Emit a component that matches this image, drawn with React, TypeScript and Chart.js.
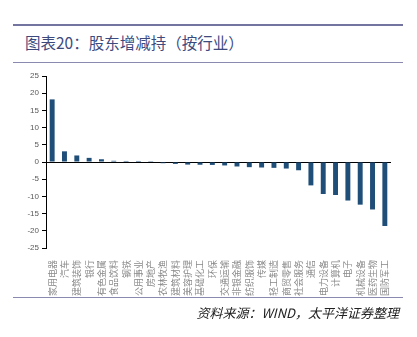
import React, { useEffect, useRef } from "react";
import { Chart, registerables } from "chart.js";
Chart.register(...registerables);

const titleText = "图表20：股东增减持（按行业）";
const sourceText = "资料来源：WIND，太平洋证券整理";

const categories = [
  "家用电器", "汽车", "建筑装饰", "银行", "有色金属", "食品饮料", "钢铁",
  "公用事业", "房地产", "农林牧渔", "建筑材料", "美容护理", "基础化工", "环保",
  "交通运输", "非银金融", "纺织服饰", "传媒", "轻工制造", "商贸零售", "社会服务",
  "通信", "电力设备", "计算机", "电子", "机械设备", "医药生物", "国防军工",
];

const values = [
  18.2, 3.1, 1.9, 1.2, 0.8, 0.35, 0.3,
  0.3, 0.25, -0.35, -0.55, -0.75, -0.8, -0.85,
  -1.0, -1.3, -1.5, -1.6, -1.7, -1.9, -2.4,
  -6.8, -9.3, -9.6, -11.2, -12.4, -13.8, -18.6,
];

const yMin = -25;
const yMax = 25;
const yStep = 5;

export default function App() {
  const ref = useRef<HTMLCanvasElement>(null);

  useEffect(() => {
    const chart = new Chart(ref.current!, {
      type: "bar",
      data: {
        labels: categories,
        datasets: [
          {
            data: values,
            backgroundColor: "#1F4E79",
            barPercentage: 0.4,
            categoryPercentage: 1,
          },
        ],
      },
      options: {
        responsive: false,
        animation: false,
        layout: { padding: { top: 76, bottom: 40, left: 0, right: 26 } },
        plugins: { legend: { display: false }, tooltip: { enabled: false } },
        scales: {
          x: {
            grid: { display: false },
            border: { display: false },
            ticks: {
              autoSkip: false,
              minRotation: 90,
              maxRotation: 90,
              padding: 4,
              color: "#8a8a8a",
              font: { size: 9, family: "Noto Sans CJK SC" },
            },
            afterFit: (s: any) => {
              s.height = 49;
            },
          },
          y: {
            min: yMin,
            max: yMax,
            ticks: {
              stepSize: yStep,
              color: "#595959",
              padding: 3,
              font: { size: 8, family: "Liberation Sans" },
            },
            grid: {
              color: (c: any) =>
                c.tick && c.tick.value === 0 ? "#000" : "rgba(0,0,0,0)",
              tickColor: "#000",
              tickLength: 4,
              lineWidth: 1,
            },
            border: { display: true, color: "#000" },
            afterFit: (s: any) => {
              s.width = 46;
            },
          },
        },
      },
    });
    return () => chart.destroy();
  }, []);

  return (
    <div
      style={{
        position: "fixed",
        left: 0,
        top: 0,
        width: 417,
        height: 337,
        background: "#fff",
        overflow: "hidden",
      }}
    >
      <div style={{ position: "absolute", left: 13, top: 24, width: 390, height: 2, background: "#7474a0" }} />
      <div
        style={{
          position: "absolute",
          left: 25,
          top: 32,
          fontFamily: "Noto Sans CJK SC",
          fontSize: 15.5,
          lineHeight: "20px",
          color: "#3d4a7e",
          whiteSpace: "nowrap",
        }}
      >
        {titleText}
      </div>
      <div style={{ position: "absolute", left: 13, top: 62, width: 390, height: 1, background: "#8a8ab0" }} />
      <canvas
        ref={ref}
        width={417}
        height={337}
        style={{ position: "absolute", left: 0, top: 0, width: 417, height: 337 }}
      />
      <div style={{ position: "absolute", left: 13, top: 297, width: 390, height: 1, background: "#8a8ab0" }} />
      <div
        style={{
          position: "absolute",
          right: 18,
          top: 304,
          fontFamily: "Noto Sans CJK SC",
          fontStyle: "italic",
          fontSize: 13,
          lineHeight: "18px",
          color: "#222",
          whiteSpace: "nowrap",
        }}
      >
        {sourceText}
      </div>
    </div>
  );
}
